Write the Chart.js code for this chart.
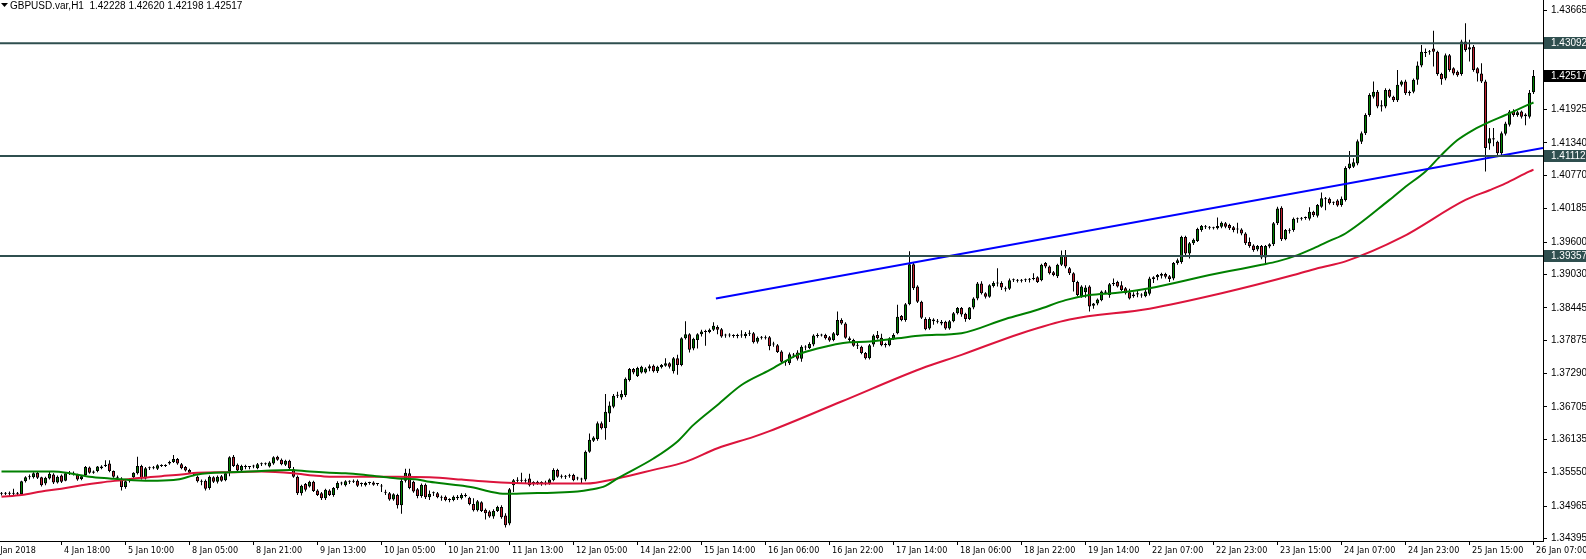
<!DOCTYPE html>
<html>
<head>
<meta charset="utf-8">
<script src="https://cdn.jsdelivr.net/npm/chart.js@4.4.1/dist/chart.umd.min.js"></script>
<style>
  html, body { margin: 0; padding: 0; background: #fff; }
  #wrap { position: relative; width: 1586px; height: 559px; }
</style>
</head>
<body>
<div id="wrap"><canvas id="chart" width="1586" height="559"></canvas></div>
<script>
// GBPUSD.var H1, one value per hourly bar
const openPrices = [
  1.3518,1.3519,1.3518,1.3520,1.3518,1.3517,1.3540,1.3547,1.3547,1.3555,
  1.3547,1.3536,1.3545,1.3552,1.3538,1.3550,1.3541,1.3553,1.3555,1.3551,
  1.3544,1.3551,1.3564,1.3555,1.3558,1.3563,1.3567,1.3571,1.3558,1.3547,
  1.3545,1.3530,1.3540,1.3547,1.3554,1.3567,1.3545,1.3563,1.3564,1.3562,
  1.3568,1.3567,1.3571,1.3574,1.3579,1.3570,1.3565,1.3560,1.3554,1.3548,
  1.3539,1.3541,1.3528,1.3547,1.3539,1.3549,1.3542,1.3557,1.3583,1.3569,
  1.3559,1.3566,1.3565,1.3566,1.3563,1.3570,1.3571,1.3566,1.3571,1.3583,
  1.3578,1.3569,1.3576,1.3561,1.3548,1.3519,1.3535,1.3531,1.3539,1.3524,
  1.3519,1.3510,1.3524,1.3516,1.3528,1.3536,1.3533,1.3539,1.3539,1.3541,
  1.3535,1.3533,1.3537,1.3538,1.3535,1.3532,1.3521,1.3519,1.3508,1.3516,
  1.3498,1.3541,1.3554,1.3539,1.3526,1.3514,1.3534,1.3512,1.3519,1.3519,
  1.3512,1.3513,1.3507,1.3507,1.3513,1.3510,1.3516,1.3511,1.3500,1.3489,
  1.3503,1.3490,1.3487,1.3478,1.3488,1.3495,1.3480,1.3466,1.3533,1.3541,
  1.3542,1.3541,1.3545,1.3537,1.3539,1.3537,1.3538,1.3537,1.3542,1.3560,
  1.3549,1.3548,1.3549,1.3551,1.3545,1.3544,1.3543,1.3592,1.3611,1.3614,
  1.3642,1.3633,1.3659,1.3671,1.3690,1.3687,1.3691,1.3718,1.3737,1.3725,
  1.3731,1.3731,1.3738,1.3743,1.3733,1.3740,1.3743,1.3747,1.3733,1.3756,
  1.3744,1.3791,1.3798,1.3773,1.3788,1.3798,1.3803,1.3802,1.3806,1.3811,
  1.3807,1.3796,1.3797,1.3796,1.3795,1.3796,1.3795,1.3799,1.3800,1.3785,
  1.3792,1.3793,1.3793,1.3780,1.3779,1.3768,1.3751,1.3747,1.3762,1.3766,
  1.3755,1.3776,1.3774,1.3780,1.3795,1.3797,1.3797,1.3793,1.3788,1.3797,
  1.3823,1.3817,1.3791,1.3788,1.3778,1.3776,1.3765,1.3756,1.3780,1.3797,
  1.3792,1.3779,1.3779,1.3790,1.3800,1.3830,1.3823,1.3851,1.3921,1.3882,
  1.3855,1.3825,1.3808,1.3824,1.3821,1.3820,1.3820,1.3808,1.3821,1.3835,
  1.3844,1.3834,1.3825,1.3845,1.3861,1.3887,1.3870,1.3864,1.3883,1.3887,
  1.3888,1.3879,1.3878,1.3893,1.3893,1.3892,1.3893,1.3894,1.3895,1.3898,
  1.3893,1.3923,1.3917,1.3907,1.3900,1.3920,1.3937,1.3914,1.3905,1.3890,
  1.3865,1.3872,1.3882,1.3848,1.3852,1.3858,1.3873,1.3867,1.3886,1.3890,
  1.3884,1.3879,1.3872,1.3865,1.3868,1.3866,1.3865,1.3869,1.3895,1.3898,
  1.3901,1.3904,1.3900,1.3896,1.3923,1.3925,1.3969,1.3940,1.3958,1.3962,
  1.3981,1.3987,1.3986,1.3985,1.3984,1.3987,1.3993,1.3990,1.3986,1.3982,
  1.3982,1.3975,1.3960,1.3954,1.3947,1.3953,1.3933,1.3952,1.3956,1.3993,
  1.4020,1.3965,1.3981,1.3981,1.4000,1.4001,1.4002,1.4001,1.4013,1.4006,
  1.4022,1.4036,1.4036,1.4029,1.4033,1.4025,1.4034,1.4090,1.4092,1.4098,
  1.4136,1.4151,1.4183,1.4215,1.4224,1.4198,1.4198,1.4227,1.4215,1.4209,
  1.4236,1.4242,1.4221,1.4224,1.4245,1.4270,1.4293,1.4293,1.4300,1.4294,
  1.4255,1.4247,1.4288,1.4265,1.4259,1.4255,1.4312,1.4298,1.4303,1.4265,
  1.4256,1.4242,1.4133,1.4142,1.4136,1.4116,1.4150,1.4166,1.4190,1.4183,
  1.4189,1.4181,1.4180,1.42228
];
const highPrices = [
  1.3521,1.3521,1.3522,1.3527,1.3521,1.3541,1.3549,1.3552,1.3556,1.3557,
  1.3548,1.3548,1.3558,1.3554,1.3550,1.3552,1.3556,1.3558,1.3557,1.3553,
  1.3551,1.3567,1.3566,1.3559,1.3567,1.3568,1.3577,1.3577,1.3559,1.3550,
  1.3547,1.3542,1.3545,1.3556,1.3583,1.3569,1.3565,1.3566,1.3567,1.3570,
  1.3570,1.3570,1.3576,1.3586,1.3581,1.3572,1.3567,1.3562,1.3556,1.3550,
  1.3543,1.3543,1.3550,1.3549,1.3550,1.3551,1.3556,1.3584,1.3586,1.3571,
  1.3569,1.3569,1.3567,1.3569,1.3572,1.3573,1.3573,1.3575,1.3584,1.3585,
  1.3580,1.3578,1.3578,1.3565,1.3550,1.3534,1.3537,1.3541,1.3541,1.3526,
  1.3521,1.3527,1.3526,1.3530,1.3540,1.3539,1.3542,1.3542,1.3543,1.3543,
  1.3538,1.3539,1.3539,1.3540,1.3537,1.3535,1.3525,1.3521,1.3519,1.3518,
  1.3545,1.3562,1.3562,1.3541,1.3528,1.3536,1.3536,1.3524,1.3522,1.3521,
  1.3515,1.3515,1.3510,1.3515,1.3516,1.3519,1.3519,1.3513,1.3510,1.3507,
  1.3505,1.3492,1.3489,1.3491,1.3497,1.3498,1.3484,1.3528,1.3544,1.3547,
  1.3555,1.3545,1.3553,1.3540,1.3541,1.3540,1.3541,1.3545,1.3563,1.3562,
  1.3552,1.3551,1.3553,1.3553,1.3548,1.3546,1.3594,1.3624,1.3619,1.3645,
  1.3645,1.3693,1.3680,1.3693,1.3697,1.3700,1.3722,1.3739,1.3739,1.3741,
  1.3743,1.3740,1.3745,1.3745,1.3743,1.3746,1.3756,1.3749,1.3758,1.3762,
  1.3793,1.3821,1.3800,1.3792,1.3800,1.3806,1.3806,1.3808,1.3819,1.3814,
  1.3809,1.3799,1.3800,1.3798,1.3799,1.3805,1.3802,1.3805,1.3802,1.3794,
  1.3795,1.3796,1.3795,1.3785,1.3781,1.3770,1.3753,1.3766,1.3765,1.3770,
  1.3779,1.3779,1.3784,1.3798,1.3800,1.3799,1.3799,1.3795,1.3802,1.3838,
  1.3826,1.3819,1.3794,1.3790,1.3784,1.3778,1.3767,1.3781,1.3798,1.3804,
  1.3799,1.3783,1.3793,1.3800,1.3850,1.3832,1.3853,1.3944,1.3924,1.3884,
  1.3857,1.3828,1.3828,1.3826,1.3825,1.3823,1.3822,1.3823,1.3837,1.3846,
  1.3846,1.3836,1.3846,1.3863,1.3890,1.3891,1.3872,1.3886,1.3891,1.3914,
  1.3891,1.3882,1.3896,1.3896,1.3895,1.3895,1.3896,1.3897,1.3905,1.3900,
  1.3922,1.3925,1.3919,1.3909,1.3922,1.3945,1.3946,1.3916,1.3907,1.3892,
  1.3884,1.3884,1.3884,1.3853,1.3861,1.3875,1.3876,1.3888,1.3896,1.3892,
  1.3891,1.3881,1.3878,1.3872,1.3876,1.3870,1.3876,1.3899,1.3900,1.3904,
  1.3906,1.3906,1.3902,1.3925,1.3931,1.3971,1.3971,1.3960,1.3966,1.3985,
  1.3990,1.3990,1.3988,1.3987,1.4003,1.3996,1.3995,1.3992,1.3988,1.3994,
  1.3984,1.3977,1.3968,1.3956,1.3955,1.3955,1.3955,1.3958,1.3995,1.4022,
  1.4023,1.3983,1.3984,1.4003,1.4003,1.4004,1.4005,1.4021,1.4015,1.4027,
  1.4047,1.4039,1.4038,1.4031,1.4035,1.4040,1.4093,1.4120,1.4107,1.4140,
  1.4154,1.4186,1.4221,1.4242,1.4227,1.4209,1.4230,1.4229,1.4217,1.4262,
  1.4244,1.4245,1.4226,1.4247,1.4277,1.4306,1.4300,1.4297,1.4331,1.4296,
  1.4257,1.4291,1.4290,1.4267,1.4261,1.4315,1.4344,1.4315,1.4306,1.4267,
  1.4274,1.4245,1.4160,1.4160,1.4138,1.4154,1.4171,1.4192,1.4193,1.4190,
  1.4191,1.4186,1.4227,1.42620
];
const lowPrices = [
  1.3515,1.3516,1.3513,1.3515,1.3514,1.3515,1.3538,1.3543,1.3545,1.3544,
  1.3531,1.3533,1.3543,1.3535,1.3536,1.3537,1.3540,1.3551,1.3550,1.3541,
  1.3542,1.3549,1.3553,1.3553,1.3556,1.3561,1.3565,1.3556,1.3546,1.3543,
  1.3524,1.3527,1.3538,1.3545,1.3552,1.3543,1.3543,1.3560,1.3561,1.3560,
  1.3565,1.3565,1.3569,1.3572,1.3569,1.3561,1.3557,1.3553,1.3550,1.3538,
  1.3533,1.3524,1.3525,1.3537,1.3536,1.3539,1.3540,1.3549,1.3565,1.3557,
  1.3557,1.3561,1.3561,1.3563,1.3561,1.3567,1.3568,1.3564,1.3569,1.3576,
  1.3568,1.3567,1.3561,1.3546,1.3516,1.3515,1.3522,1.3529,1.3521,1.3514,
  1.3507,1.3507,1.3514,1.3513,1.3525,1.3533,1.3531,1.3535,1.3537,1.3530,
  1.3531,1.3531,1.3534,1.3532,1.3532,1.3521,1.3516,1.3506,1.3506,1.3492,
  1.3483,1.3538,1.3526,1.3520,1.3510,1.3511,1.3509,1.3507,1.3514,1.3510,
  1.3506,1.3505,1.3503,1.3505,1.3507,1.3508,1.3512,1.3498,1.3487,1.3487,
  1.3486,1.3473,1.3476,1.3474,1.3486,1.3474,1.3459,1.3463,1.3521,1.3536,
  1.3538,1.3535,1.3531,1.3532,1.3534,1.3532,1.3533,1.3534,1.3540,1.3546,
  1.3545,1.3544,1.3546,1.3540,1.3542,1.3535,1.3540,1.3590,1.3609,1.3611,
  1.3631,1.3613,1.3644,1.3668,1.3686,1.3683,1.3688,1.3715,1.3728,1.3723,
  1.3729,1.3729,1.3733,1.3731,1.3730,1.3738,1.3741,1.3738,1.3729,1.3727,
  1.3742,1.3789,1.3766,1.3770,1.3773,1.3794,1.3778,1.3800,1.3804,1.3798,
  1.3792,1.3792,1.3793,1.3792,1.3791,1.3792,1.3791,1.3795,1.3782,1.3782,
  1.3789,1.3789,1.3770,1.3776,1.3765,1.3747,1.3743,1.3744,1.3757,1.3752,
  1.3750,1.3770,1.3772,1.3777,1.3792,1.3794,1.3789,1.3785,1.3786,1.3795,
  1.3815,1.3790,1.3784,1.3776,1.3772,1.3763,1.3754,1.3754,1.3776,1.3789,
  1.3777,1.3775,1.3777,1.3788,1.3798,1.3821,1.3820,1.3849,1.3876,1.3853,
  1.3825,1.3805,1.3806,1.3815,1.3817,1.3814,1.3806,1.3806,1.3819,1.3833,
  1.3829,1.3820,1.3823,1.3842,1.3858,1.3868,1.3861,1.3862,1.3880,1.3882,
  1.3876,1.3873,1.3876,1.3890,1.3889,1.3889,1.3890,1.3889,1.3893,1.3888,
  1.3891,1.3914,1.3903,1.3900,1.3897,1.3918,1.3914,1.3902,1.3873,1.3865,
  1.3862,1.3862,1.3838,1.3843,1.3849,1.3856,1.3869,1.3862,1.3883,1.3880,
  1.3874,1.3868,1.3859,1.3862,1.3863,1.3862,1.3863,1.3866,1.3888,1.3893,
  1.3896,1.3896,1.3890,1.3893,1.3920,1.3922,1.3937,1.3931,1.3955,1.3960,
  1.3978,1.3983,1.3982,1.3982,1.3982,1.3984,1.3984,1.3981,1.3977,1.3975,
  1.3972,1.3955,1.3950,1.3943,1.3944,1.3930,1.3923,1.3949,1.3953,1.3990,
  1.3962,1.3963,1.3975,1.3978,1.3994,1.3998,1.3999,1.3998,1.4004,1.4003,
  1.4020,1.4016,1.4026,1.4025,1.4022,1.4022,1.4031,1.4088,1.4090,1.4095,
  1.4132,1.4148,1.4180,1.4212,1.4195,1.4189,1.4195,1.4213,1.4206,1.4206,
  1.4233,1.4218,1.4217,1.4221,1.4236,1.4267,1.4285,1.4289,1.4268,1.4252,
  1.4236,1.4244,1.4259,1.4253,1.4250,1.4252,1.4294,1.4277,1.4259,1.4242,
  1.4239,1.4084,1.4122,1.4128,1.4113,1.4113,1.4147,1.4163,1.4180,1.4180,
  1.4177,1.4165,1.4177,1.42198
];
const closePrices = [
  1.3519,1.3518,1.3520,1.3518,1.3519,1.3540,1.3547,1.3548,1.3554,1.3546,
  1.3533,1.3546,1.3553,1.3538,1.3548,1.3539,1.3554,1.3555,1.3553,1.3543,
  1.3549,1.3565,1.3555,1.3557,1.3566,1.3566,1.3569,1.3558,1.3548,1.3546,
  1.3530,1.3540,1.3542,1.3555,1.3567,1.3545,1.3563,1.3564,1.3563,1.3568,
  1.3567,1.3568,1.3574,1.3579,1.3571,1.3563,1.3559,1.3555,1.3553,1.3540,
  1.3541,1.3527,1.3548,1.3539,1.3548,1.3541,1.3554,1.3582,1.3567,1.3559,
  1.3567,1.3565,1.3566,1.3567,1.3570,1.3571,1.3570,1.3573,1.3582,1.3578,
  1.3570,1.3576,1.3563,1.3548,1.3519,1.3532,1.3525,1.3539,1.3523,1.3516,
  1.3510,1.3525,1.3516,1.3528,1.3537,1.3537,1.3540,1.3539,1.3541,1.3532,
  1.3536,1.3537,1.3538,1.3534,1.3535,1.3531,1.3520,1.3508,1.3517,1.3498,
  1.3541,1.3555,1.3528,1.3522,1.3514,1.3534,1.3512,1.3518,1.3520,1.3512,
  1.3511,1.3507,1.3508,1.3513,1.3510,1.3516,1.3514,1.3500,1.3489,1.3505,
  1.3488,1.3484,1.3478,1.3488,1.3495,1.3477,1.3463,1.3526,1.3542,1.3542,
  1.3541,1.3540,1.3533,1.3538,1.3537,1.3538,1.3536,1.3543,1.3560,1.3548,
  1.3548,1.3549,1.3550,1.3542,1.3546,1.3543,1.3592,1.3613,1.3617,1.3642,
  1.3633,1.3662,1.3673,1.3690,1.3691,1.3693,1.3720,1.3737,1.3731,1.3739,
  1.3741,1.3738,1.3742,1.3733,1.3741,1.3744,1.3747,1.3741,1.3756,1.3744,
  1.3791,1.3798,1.3771,1.3790,1.3798,1.3803,1.3802,1.3806,1.3813,1.3806,
  1.3794,1.3797,1.3796,1.3795,1.3796,1.3797,1.3799,1.3800,1.3784,1.3792,
  1.3793,1.3791,1.3777,1.3782,1.3767,1.3750,1.3749,1.3763,1.3761,1.3755,
  1.3776,1.3775,1.3781,1.3796,1.3797,1.3796,1.3791,1.3787,1.3800,1.3823,
  1.3817,1.3792,1.3788,1.3778,1.3779,1.3765,1.3756,1.3779,1.3796,1.3791,
  1.3779,1.3781,1.3791,1.3797,1.3829,1.3823,1.3851,1.3921,1.3879,1.3855,
  1.3827,1.3807,1.3825,1.3821,1.3820,1.3817,1.3808,1.3821,1.3835,1.3844,
  1.3833,1.3825,1.3845,1.3861,1.3887,1.3870,1.3864,1.3884,1.3888,1.3888,
  1.3880,1.3877,1.3893,1.3894,1.3892,1.3893,1.3894,1.3895,1.3897,1.3890,
  1.3920,1.3917,1.3905,1.3902,1.3920,1.3937,1.3917,1.3905,1.3890,1.3867,
  1.3882,1.3880,1.3847,1.3852,1.3859,1.3873,1.3871,1.3886,1.3888,1.3882,
  1.3876,1.3870,1.3861,1.3868,1.3870,1.3867,1.3873,1.3896,1.3898,1.3902,
  1.3904,1.3899,1.3895,1.3923,1.3928,1.3969,1.3940,1.3958,1.3964,1.3983,
  1.3988,1.3986,1.3985,1.3984,1.3988,1.3994,1.3987,1.3984,1.3981,1.3983,
  1.3975,1.3958,1.3953,1.3946,1.3953,1.3933,1.3953,1.3956,1.3993,1.4019,
  1.3965,1.3981,1.3980,1.4001,1.4001,1.4002,1.4004,1.4013,1.4007,1.4025,
  1.4037,1.4035,1.4028,1.4030,1.4024,1.4036,1.4090,1.4098,1.4100,1.4137,
  1.4151,1.4183,1.4218,1.4224,1.4198,1.4200,1.4227,1.4215,1.4209,1.4236,
  1.4242,1.4221,1.4224,1.4245,1.4270,1.4294,1.4292,1.4295,1.4294,1.4255,
  1.4246,1.4288,1.4262,1.4256,1.4253,1.4312,1.4297,1.4302,1.4262,1.4256,
  1.4242,1.4125,1.4142,1.4140,1.4116,1.4151,1.4168,1.4189,1.4183,1.4188,
  1.4180,1.4184,1.4222,1.42517
];

// moving averages, read at bar index -> price
const fastMaIndex = [0, 13, 17, 22, 27, 33, 39, 44, 49, 57, 65, 72, 77, 82, 86, 91, 95, 99, 104, 107,
  113, 118, 122, 126, 132, 138, 144, 147, 151, 154, 163, 169, 173, 179, 185, 192, 199, 204, 212, 216,
  224, 230, 240, 251, 259, 266, 272, 279, 287, 302, 307, 315, 319, 324, 328, 332, 336, 347, 351, 356,
  360, 364, 368, 372, 376, 382, 383];
const fastMaValue = [1.3557, 1.3557, 1.3554, 1.3548, 1.3545, 1.3542, 1.3541, 1.3543, 1.3552, 1.3556, 1.3558, 1.3560, 1.3557, 1.3555, 1.3554, 1.3551, 1.3548, 1.3545, 1.3543, 1.3539,
  1.3534, 1.3529, 1.3522, 1.3518, 1.3519, 1.3520, 1.3522, 1.3525, 1.3532, 1.3545, 1.3580, 1.3610, 1.3639, 1.3674, 1.3709, 1.3735, 1.3762, 1.3773, 1.3784, 1.3785,
  1.3791, 1.3796, 1.3800, 1.3825, 1.3841, 1.3858, 1.3867, 1.3871, 1.3879, 1.3902, 1.3909, 1.3920, 1.3926, 1.3937, 1.3949, 1.3962, 1.3975, 1.4034, 1.4057, 1.4084,
  1.4113, 1.4139, 1.4157, 1.4171, 1.4183, 1.4202, 1.4205];
const slowMaIndex = [0, 5, 10, 15, 20, 25, 30, 35, 40, 45, 49, 57, 65, 73, 78, 82, 88, 95, 99, 107,
  115, 122, 128, 136, 146, 154, 163, 171, 179, 188, 192, 210, 230, 240, 255, 267, 287, 305, 323, 329,
  336, 350, 366, 372, 376, 382, 383];
const slowMaValue = [1.3513, 1.3516, 1.3522, 1.3527, 1.3533, 1.3538, 1.3542, 1.3546, 1.3549, 1.3552, 1.3555, 1.3556, 1.3557, 1.3554, 1.3550, 1.3548, 1.3548, 1.3548, 1.3548, 1.3547,
  1.3543, 1.3539, 1.3537, 1.3536, 1.3536, 1.3545, 1.3560, 1.3574, 1.3598, 1.3618, 1.3628, 1.3680, 1.3738, 1.3762, 1.3800, 1.3824, 1.3843, 1.3870, 1.3902, 1.3914,
  1.3926, 1.3968, 1.4034, 1.4051, 1.4063, 1.4084, 1.4087];

// horizontal levels and the trend ray
const levelPrices = [1.43092, 1.41112, 1.39357];
const trendIndex = [178.6, 385.375];
const trendValue = [1.3861, 1.4125];

const timeLabels = ['3 Jan 2018', '4 Jan 18:00', '5 Jan 10:00', '8 Jan 05:00', '8 Jan 21:00', '9 Jan 13:00',
  '10 Jan 05:00', '10 Jan 21:00', '11 Jan 13:00', '12 Jan 05:00', '14 Jan 22:00', '15 Jan 14:00',
  '16 Jan 06:00', '16 Jan 22:00', '17 Jan 14:00', '18 Jan 06:00', '18 Jan 22:00', '19 Jan 14:00',
  '22 Jan 07:00', '22 Jan 23:00', '23 Jan 15:00', '24 Jan 07:00', '24 Jan 23:00', '25 Jan 15:00', '26 Jan 07:00'];
const priceTicks = [1.43665, 1.41925, 1.41340, 1.40770, 1.40185, 1.39600, 1.39030, 1.38445,
  1.37875, 1.37290, 1.36705, 1.36135, 1.35550, 1.34965, 1.34395];

const titleText = 'GBPUSD.var,H1  1.42228 1.42620 1.42198 1.42517';

/* ---------- helpers ---------- */
const lastBar = closePrices.length - 1;
// one time label every 16 bars, the last one on the last bar;
// the first one is the partial date stamp pinned at the left edge
const timeTickIndex = timeLabels.map((_, k) => k === 0 ? -2.9 : lastBar - 16 * (timeLabels.length - 1 - k));

const BULL = '#008000';
const BEAR = '#c0202e';
const LEVEL = '#2f4f4f';

const wickData = openPrices.map((o, i) => ({ x: i, y: [lowPrices[i], highPrices[i]] }));
const bodyData = openPrices.map((o, i) => ({ x: i, y: [o, closePrices[i]] }));
const bodyColors = openPrices.map((o, i) => closePrices[i] >= o ? BULL : BEAR);

const toPoints = (xs, ys) => xs.map((x, i) => ({ x, y: ys[i] }));

const X_MIN = -0.375;
const X_MAX = 385.375;

const levelSets = levelPrices.map(p => ({
  type: 'line',
  data: [{ x: X_MIN, y: p }, { x: X_MAX, y: p }],
  borderColor: LEVEL,
  borderWidth: 2,
  pointRadius: 0,
  order: 0
}));

/* ---------- overlay: title + price boxes ---------- */
const overlayPlugin = {
  id: 'mtOverlay',
  afterDraw(chart) {
    const ctx = chart.ctx;
    const yScale = chart.scales.y;
    const area = chart.chartArea;

    function priceBox(p, bg) {
      const yy = Math.round(yScale.getPixelForValue(p));
      ctx.fillStyle = bg;
      ctx.fillRect(area.right + 1, yy - 6, chart.width - area.right - 1, 12);
      ctx.fillStyle = '#fff';
      ctx.font = '10px "Liberation Sans", Arial, sans-serif';
      ctx.textAlign = 'left';
      ctx.textBaseline = 'middle';
      ctx.fillText(p.toFixed(5), area.right + 8, yy + 0.5);
    }

    ctx.save();
    levelPrices.forEach(p => priceBox(p, LEVEL));
    priceBox(closePrices[lastBar], '#000');

    // title with the small drop-down triangle
    ctx.fillStyle = '#000';
    ctx.beginPath();
    ctx.moveTo(1, 3);
    ctx.lineTo(8, 3);
    ctx.lineTo(4.5, 7);
    ctx.closePath();
    ctx.fill();
    ctx.font = '10px "Liberation Sans", Arial, sans-serif';
    ctx.textAlign = 'left';
    ctx.textBaseline = 'alphabetic';
    ctx.fillText(titleText, 10, 9);
    ctx.restore();
  }
};

/* ---------- chart ---------- */
new Chart(document.getElementById('chart'), {
  type: 'bar',
  data: {
    datasets: [
      {
        label: 'wick',
        data: wickData,
        backgroundColor: '#000',
        borderWidth: 0,
        barThickness: 1,
        grouped: false,
        inflateAmount: 0,
        order: 4
      },
      {
        label: 'body',
        data: bodyData,
        backgroundColor: bodyColors,
        borderColor: '#000',
        borderWidth: 1,
        borderSkipped: false,
        barThickness: 3,
        minBarLength: 1,
        grouped: false,
        inflateAmount: 0,
        order: 3
      },
      {
        type: 'line',
        label: 'slow',
        data: toPoints(slowMaIndex, slowMaValue),
        borderColor: '#dc143c',
        borderWidth: 2,
        pointRadius: 0,
        cubicInterpolationMode: 'monotone',
        order: 2
      },
      {
        type: 'line',
        label: 'fast',
        data: toPoints(fastMaIndex, fastMaValue),
        borderColor: BULL,
        borderWidth: 2,
        pointRadius: 0,
        cubicInterpolationMode: 'monotone',
        order: 1
      },
      ...levelSets,
      {
        type: 'line',
        label: 'trend',
        data: toPoints(trendIndex, trendValue),
        borderColor: '#0000ff',
        borderWidth: 2,
        pointRadius: 0,
        order: 0
      }
    ]
  },
  options: {
    responsive: false,
    animation: false,
    devicePixelRatio: 1,
    layout: { padding: 0 },
    plugins: {
      legend: { display: false },
      tooltip: { enabled: false }
    },
    scales: {
      x: {
        type: 'linear',
        min: X_MIN,
        max: X_MAX,
        offset: false,
        grid: { display: true, offset: false, drawOnChartArea: false, drawTicks: true, tickLength: 4, color: '#000' },
        border: { display: true, color: '#000', width: 1 },
        afterBuildTicks: (scale) => {
          scale.ticks = timeTickIndex.map(v => ({ value: v }));
        },
        afterFit: (scale) => {
          scale.height = 18;
          scale.paddingLeft = 0;
          scale.paddingRight = 0;
        },
        ticks: {
          autoSkip: false,
          maxRotation: 0,
          align: 'start',
          padding: 0,
          color: '#000',
          font: { family: '"DejaVu Sans Condensed", "Liberation Sans", sans-serif', size: 9 },
          callback: (value, index) => ' ' + timeLabels[index]
        }
      },
      y: {
        position: 'right',
        min: 1.343514,
        max: 1.438493,
        grid: { display: true, drawOnChartArea: false, drawTicks: true, tickLength: 4, color: '#000' },
        border: { display: true, color: '#000', width: 1 },
        afterBuildTicks: (scale) => {
          scale.ticks = priceTicks.map(v => ({ value: v }));
        },
        afterFit: (scale) => {
          scale.width = 43;
          scale.paddingTop = 0;
          scale.paddingBottom = 0;
        },
        ticks: {
          autoSkip: false,
          padding: 4,
          color: '#000',
          font: { family: '"Liberation Sans", Arial, sans-serif', size: 10 },
          callback: (value) => Number(value).toFixed(5)
        }
      }
    }
  },
  plugins: [overlayPlugin]
});
</script>
</body>
</html>
